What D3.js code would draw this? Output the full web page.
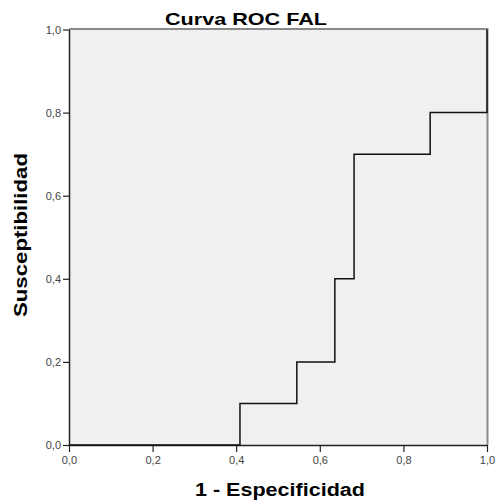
<!DOCTYPE html>
<html><head><meta charset="utf-8">
<script src="https://cdn.jsdelivr.net/npm/d3@7"></script>
<style>body{margin:0;background:#fff;}svg{display:block;}</style>
</head><body>
<svg id="c" width="497" height="504"></svg>
<script>
const fpr = [0.0, 0.409, 0.545, 0.636, 0.682, 0.864, 1.0];
const tpr = [0.0, 0.1, 0.2, 0.4, 0.7, 0.8, 1.0];
const xTicks = [0, 0.2, 0.4, 0.6, 0.8, 1.0];
const yTicks = [0, 0.2, 0.4, 0.6, 0.8, 1.0];
const title = "Curva ROC FAL";
const xLabel = "1 - Especificidad";
const yLabel = "Susceptibilidad";

const svg = d3.select("#c");
const L = 69, R = 487, T = 29.5, B = 445;
const x = d3.scaleLinear().domain([0, 1]).range([L, R]);
const y = d3.scaleLinear().domain([0, 1]).range([B, T]);
const fmt = d => d3.format(".1f")(d).replace(".", ",");

svg.append("rect").attr("x", L).attr("y", T).attr("width", R - L).attr("height", B - T)
  .attr("fill", "#f0f0f0");
svg.append("line").attr("x1", L).attr("x2", R).attr("y1", T - 0.5).attr("y2", T - 0.5)
  .attr("stroke", "#8a8a8a").attr("stroke-width", 2);
svg.append("line").attr("x1", R + 0.5).attr("x2", R + 0.5).attr("y1", T - 1.5).attr("y2", B)
  .attr("stroke", "#8a8a8a").attr("stroke-width", 2);

const xAxis = svg.append("g").attr("transform", `translate(0,${B})`)
  .call(d3.axisBottom(x).tickValues(xTicks).tickFormat(fmt).tickSizeInner(7).tickSizeOuter(0).tickPadding(4));
const yAxis = svg.append("g").attr("transform", `translate(${L},0)`)
  .call(d3.axisLeft(y).tickValues(yTicks).tickFormat(fmt).tickSizeInner(6).tickSizeOuter(0).tickPadding(2));
[xAxis, yAxis].forEach(g => {
  g.select(".domain").attr("stroke", "#222").attr("stroke-width", 1.5);
  g.selectAll(".tick line").attr("stroke", "#222").attr("stroke-width", 1.2);
  g.selectAll(".tick text").attr("fill", "#444").attr("font-family", "Liberation Sans, Arial, sans-serif").attr("font-size", 11);
});

const pts = fpr.map((f, i) => [f, tpr[i]]);
svg.append("path").datum(pts)
  .attr("d", d3.line().x(d => x(d[0])).y(d => y(d[1])).curve(d3.curveStepAfter))
  .attr("fill", "none").attr("stroke", "#111").attr("stroke-width", 1.5);

svg.append("text").attr("x", 165).attr("y", 25).text(title)
  .attr("font-family", "Liberation Sans, Arial, sans-serif").attr("font-weight", "bold")
  .attr("font-size", 17).attr("textLength", 162).attr("lengthAdjust", "spacingAndGlyphs").attr("fill", "#000");
svg.append("text").attr("x", 195).attr("y", 496).text(xLabel)
  .attr("font-family", "Liberation Sans, Arial, sans-serif").attr("font-weight", "bold")
  .attr("font-size", 18).attr("textLength", 170).attr("lengthAdjust", "spacingAndGlyphs").attr("fill", "#000");
svg.append("text").attr("transform", "translate(27,317) rotate(-90)").text(yLabel)
  .attr("font-family", "Liberation Sans, Arial, sans-serif").attr("font-weight", "bold")
  .attr("font-size", 18).attr("textLength", 164).attr("lengthAdjust", "spacingAndGlyphs").attr("fill", "#000");
</script>
</body></html>
